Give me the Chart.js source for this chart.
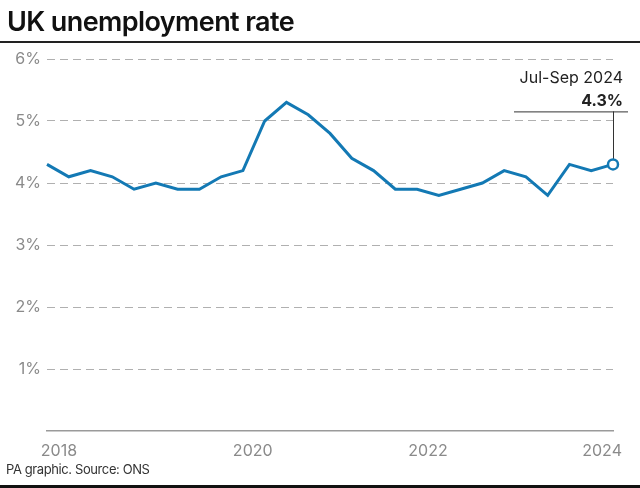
<!DOCTYPE html>
<html>
<head>
<meta charset="utf-8">
<script src="https://cdn.jsdelivr.net/npm/chart.js@4"></script>
<style>
  body { margin: 0; background: #fff; font-family: Inter, "Liberation Sans", sans-serif; }
  #wrap { position: relative; width: 640px; height: 488px; overflow: hidden; }
  #title { position: absolute; left: 7px; top: 5px; font-size: 27px; font-weight: 600; letter-spacing: -0.6px; color: #111; }
  #rule1 { position: absolute; left: 0; top: 41px; width: 640px; height: 2px; background: #222; }
  #rule2 { position: absolute; left: 0; top: 485px; width: 640px; height: 3px; background: #111; }
  #foot { position: absolute; left: 6px; top: 461px; font-size: 13px; letter-spacing: -0.4px; color: #333; }
  canvas { position: absolute; left: 0; top: 0; }
</style>
</head>
<body>
<div id="wrap">
  <canvas id="c" width="640" height="488"></canvas>
  <div id="title">UK unemployment rate</div>
  <div id="rule1"></div>
  <div id="foot">PA graphic. Source: ONS</div>
  <div id="rule2"></div>
</div>
<script>
// quarterly figures, Jan-Mar 2018 to Jul-Sep 2024
var quarters = [
  'Jan-Mar 2018', 'Apr-Jun 2018', 'Jul-Sep 2018', 'Oct-Dec 2018',
  'Jan-Mar 2019', 'Apr-Jun 2019', 'Jul-Sep 2019', 'Oct-Dec 2019',
  'Jan-Mar 2020', 'Apr-Jun 2020', 'Jul-Sep 2020', 'Oct-Dec 2020',
  'Jan-Mar 2021', 'Apr-Jun 2021', 'Jul-Sep 2021', 'Oct-Dec 2021',
  'Jan-Mar 2022', 'Apr-Jun 2022', 'Jul-Sep 2022', 'Oct-Dec 2022',
  'Jan-Mar 2023', 'Apr-Jun 2023', 'Jul-Sep 2023', 'Oct-Dec 2023',
  'Jan-Mar 2024', 'Apr-Jun 2024', 'Jul-Sep 2024'
];
var rate = [
  4.3, 4.1, 4.2, 4.1,
  3.9, 4.0, 3.9, 3.9,
  4.1, 4.2, 5.0, 5.3,
  5.1, 4.8, 4.4, 4.2,
  3.9, 3.9, 3.8, 3.9,
  4.0, 4.2, 4.1, 3.8,
  4.3, 4.2, 4.3
];
// year labels and where they sit, in quarter steps from the first point
var yearLabels = ['2018', '2020', '2022', '2024'];
var yearTickPos = [0.55, 9.45, 17.5, 25.5];
var yTicks = [0, 1, 2, 3, 4, 5, 6];

var lineColor = '#1379b4';
var font = 'Inter, "Liberation Sans", sans-serif';

var points = rate.map(function (v, i) { return { x: i, y: v }; });
var lastIdx = rate.length - 1;

// callout over the latest point
var callout = {
  id: 'callout',
  beforeDatasetsDraw: function (chart) {
    var ctx = chart.ctx;
    var pt = chart.getDatasetMeta(0).data[lastIdx];
    var lineY = pt.y - 53;
    ctx.save();
    ctx.strokeStyle = '#333';
    ctx.lineWidth = 1;
    ctx.beginPath();
    ctx.moveTo(pt.x - 99, lineY + 0.5);
    ctx.lineTo(pt.x + 15, lineY + 0.5);
    ctx.moveTo(Math.round(pt.x) + 0.5, lineY);
    ctx.lineTo(Math.round(pt.x) + 0.5, pt.y - 5);
    ctx.stroke();
    ctx.fillStyle = '#222';
    ctx.textAlign = 'right';
    ctx.textBaseline = 'alphabetic';
    ctx.font = '16px ' + font;
    ctx.fillText(quarters[lastIdx], pt.x + 10, lineY - 28);
    ctx.font = 'bold 16px ' + font;
    ctx.fillText(rate[lastIdx].toFixed(1) + '%', pt.x + 10, lineY - 5);
    ctx.restore();
  }
};

new Chart(document.getElementById('c'), {
  type: 'line',
  data: {
    datasets: [{
      data: points,
      clip: false,
      borderColor: lineColor,
      borderWidth: 3,
      tension: 0,
      pointRadius: function (c) { return c.dataIndex === lastIdx ? 5 : 0; },
      pointBackgroundColor: '#fff',
      pointBorderColor: lineColor,
      pointBorderWidth: 2.5
    }]
  },
  options: {
    responsive: false,
    animation: false,
    layout: { padding: { top: 59, right: 27, bottom: 27, left: 0 } },
    plugins: { legend: { display: false }, tooltip: { enabled: false } },
    scales: {
      x: {
        type: 'linear',
        min: 0,
        max: lastIdx,
        afterBuildTicks: function (s) { s.ticks = yearTickPos.map(function (v) { return { value: v }; }); },
        afterFit: function (s) { s.height = 30; },
        ticks: {
          autoSkip: false,
          maxRotation: 0,
          padding: 11,
          color: '#8a8a8a',
          font: { family: font, size: 16 },
          callback: function (v, i) { return yearLabels[i]; }
        },
        grid: { drawOnChartArea: false, drawTicks: false },
        border: { display: true, color: '#9a9a9a', width: 1.5 }
      },
      y: {
        min: 0,
        max: 6,
        afterBuildTicks: function (s) { s.ticks = yTicks.map(function (v) { return { value: v }; }); },
        afterFit: function (s) { s.width = 47; },
        ticks: {
          padding: 6,
          color: '#8a8a8a',
          font: { family: font, size: 16 },
          callback: function (v) { return v === 0 ? '' : v + '%'; }
        },
        grid: {
          drawTicks: false,
          color: function (c) { return c.tick && c.tick.value === 0 ? 'rgba(0,0,0,0)' : '#b0b0b0'; },
          lineWidth: 1
        },
        border: { display: false, dash: [8, 5] }
      }
    }
  },
  plugins: [callout]
});
</script>
</body>
</html>
